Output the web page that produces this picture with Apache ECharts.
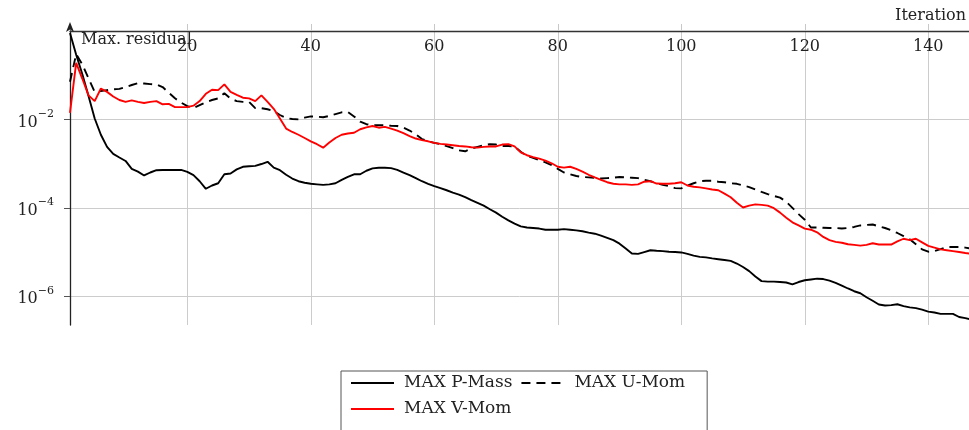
<!DOCTYPE html>
<html><head><meta charset="utf-8">
<script src="https://cdn.jsdelivr.net/npm/echarts@6/dist/echarts.min.js"></script>
<style>html,body{margin:0;padding:0;background:#fff}#c{width:969px;height:430px}</style>
</head><body><div id="c"></div>
<script>
const iterations = [1,2,3,4,5,6,7,8,9,10,11,12,13,14,15,16,17,18,19,20,
21,22,23,24,25,26,27,28,29,30,31,32,33,34,35,36,37,38,39,40,
41,42,43,44,45,46,47,48,49,50,51,52,53,54,55,56,57,58,59,60,
61,62,63,64,65,66,67,68,69,70,71,72,73,74,75,76,77,78,79,80,
81,82,83,84,85,86,87,88,89,90,91,92,93,94,95,96,97,98,99,100,
101,102,103,104,105,106,107,108,109,110,111,112,113,114,115,116,117,118,119,120,
121,122,123,124,125,126,127,128,129,130,131,132,133,134,135,136,137,138,139,140,
141,142,143,144,145,146,147];

const pMass = [0.9,0.29,0.105,3.4e-2,1.05e-2,4.5e-3,2.4e-3,1.66e-3,1.38e-3,1.15e-3,
7.6e-4,6.6e-4,5.4e-4,6.3e-4,7.1e-4,7.2e-4,7.2e-4,7.2e-4,7.2e-4,6.5e-4,
5.5e-4,4.0e-4,2.7e-4,3.2e-4,3.6e-4,5.75e-4,6.0e-4,7.4e-4,8.5e-4,8.7e-4,
8.9e-4,9.8e-4,1.1e-3,8.1e-4,7.1e-4,5.6e-4,4.6e-4,4.0e-4,3.7e-4,3.5e-4,
3.4e-4,3.3e-4,3.4e-4,3.6e-4,4.3e-4,5.0e-4,5.75e-4,5.75e-4,6.9e-4,7.8e-4,
8.1e-4,8.1e-4,7.9e-4,7.2e-4,6.3e-4,5.5e-4,4.7e-4,4.0e-4,3.5e-4,3.1e-4,
2.8e-4,2.5e-4,2.2e-4,2.0e-4,1.74e-4,1.5e-4,1.3e-4,1.12e-4,9.3e-5,7.8e-5,
6.3e-5,5.2e-5,4.4e-5,3.8e-5,3.6e-5,3.5e-5,3.4e-5,3.2e-5,3.2e-5,3.2e-5,
3.3e-5,3.2e-5,3.1e-5,2.95e-5,2.75e-5,2.6e-5,2.35e-5,2.1e-5,1.86e-5,1.55e-5,
1.2e-5,9.3e-6,9.1e-6,1.0e-5,1.1e-5,1.07e-5,1.05e-5,1.02e-5,1.0e-5,9.8e-6,
9.1e-6,8.3e-6,7.8e-6,7.6e-6,7.2e-6,6.9e-6,6.6e-6,6.3e-6,5.5e-6,4.6e-6,
3.7e-6,2.8e-6,2.2e-6,2.15e-6,2.15e-6,2.1e-6,2.05e-6,1.86e-6,2.1e-6,2.3e-6,
2.4e-6,2.5e-6,2.45e-6,2.25e-6,2.0e-6,1.74e-6,1.5e-6,1.3e-6,1.17e-6,9.5e-7,
7.9e-7,6.5e-7,6.2e-7,6.3e-7,6.6e-7,6.0e-7,5.6e-7,5.4e-7,5.0e-7,4.5e-7,
4.3e-7,4.0e-7,4.0e-7,4.0e-7,3.4e-7,3.2e-7,2.95e-7];

const uMom = [7.1e-2,0.30,0.174,8.5e-2,4.2e-2,4.4e-2,4.6e-2,4.8e-2,4.9e-2,5.4e-2,
6.0e-2,6.6e-2,6.5e-2,6.3e-2,6.2e-2,5.4e-2,4.0e-2,3.0e-2,2.4e-2,2.0e-2,
1.8e-2,2.1e-2,2.45e-2,2.75e-2,3.0e-2,3.9e-2,2.95e-2,2.6e-2,2.5e-2,2.5e-2,
1.8e-2,1.8e-2,1.7e-2,1.55e-2,1.26e-2,1.07e-2,1.02e-2,1.0e-2,1.1e-2,1.17e-2,
1.15e-2,1.12e-2,1.2e-2,1.32e-2,1.45e-2,1.48e-2,1.17e-2,8.9e-3,7.8e-3,7.4e-3,
7.4e-3,7.4e-3,7.2e-3,7.1e-3,6.5e-3,5.6e-3,4.6e-3,3.6e-3,3.2e-3,2.95e-3,
2.75e-3,2.5e-3,2.25e-3,2.0e-3,1.9e-3,2.2e-3,2.4e-3,2.6e-3,2.75e-3,2.7e-3,
2.5e-3,2.5e-3,2.45e-3,1.86e-3,1.5e-3,1.35e-3,1.2e-3,1.07e-3,9.3e-4,7.6e-4,
6.3e-4,5.75e-4,5.25e-4,5.0e-4,4.9e-4,4.8e-4,4.6e-4,4.7e-4,4.8e-4,5.0e-4,
4.9e-4,4.8e-4,4.7e-4,4.3e-4,4.0e-4,3.6e-4,3.3e-4,3.1e-4,2.8e-4,2.75e-4,
3.2e-4,3.6e-4,4.0e-4,4.1e-4,4.1e-4,3.9e-4,3.8e-4,3.6e-4,3.5e-4,3.2e-4,
2.95e-4,2.6e-4,2.3e-4,2.05e-4,1.86e-4,1.7e-4,1.38e-4,1.0e-4,7.2e-5,5.4e-5,
3.6e-5,3.6e-5,3.55e-5,3.5e-5,3.5e-5,3.4e-5,3.5e-5,3.7e-5,4.0e-5,4.1e-5,
4.2e-5,3.8e-5,3.5e-5,3.1e-5,2.7e-5,2.3e-5,1.95e-5,1.5e-5,1.15e-5,1.02e-5,
1.05e-5,1.17e-5,1.3e-5,1.3e-5,1.3e-5,1.26e-5,1.2e-5];

const vMom = [1.4e-2,0.19,8.3e-2,3.5e-2,2.6e-2,5.0e-2,4.2e-2,3.3e-2,2.75e-2,2.5e-2,
2.7e-2,2.5e-2,2.35e-2,2.5e-2,2.6e-2,2.2e-2,2.25e-2,1.9e-2,1.9e-2,1.9e-2,
2.05e-2,2.6e-2,3.8e-2,4.7e-2,4.6e-2,6.2e-2,4.2e-2,3.6e-2,3.1e-2,3.0e-2,
2.6e-2,3.5e-2,2.5e-2,1.74e-2,1.05e-2,6.2e-3,5.2e-3,4.5e-3,3.8e-3,3.2e-3,
2.75e-3,2.3e-3,3.0e-3,3.8e-3,4.5e-3,4.8e-3,5.0e-3,6.0e-3,6.6e-3,7.1e-3,
6.5e-3,6.8e-3,6.2e-3,5.6e-3,4.9e-3,4.2e-3,3.7e-3,3.4e-3,3.2e-3,2.95e-3,
2.8e-3,2.7e-3,2.6e-3,2.5e-3,2.45e-3,2.35e-3,2.3e-3,2.4e-3,2.45e-3,2.45e-3,
2.7e-3,2.75e-3,2.45e-3,1.8e-3,1.55e-3,1.4e-3,1.3e-3,1.17e-3,1.02e-3,8.5e-4,
8.1e-4,8.5e-4,7.6e-4,6.6e-4,5.6e-4,4.9e-4,4.3e-4,3.8e-4,3.5e-4,3.4e-4,
3.4e-4,3.3e-4,3.4e-4,3.9e-4,4.0e-4,3.55e-4,3.5e-4,3.5e-4,3.6e-4,3.8e-4,
3.2e-4,3.0e-4,2.9e-4,2.75e-4,2.6e-4,2.5e-4,2.1e-4,1.74e-4,1.3e-4,1.02e-4,
1.12e-4,1.2e-4,1.17e-4,1.12e-4,9.8e-5,7.8e-5,6.0e-5,4.7e-5,4.0e-5,3.4e-5,
3.2e-5,2.8e-5,2.2e-5,1.86e-5,1.7e-5,1.62e-5,1.5e-5,1.45e-5,1.4e-5,1.45e-5,
1.58e-5,1.48e-5,1.48e-5,1.48e-5,1.74e-5,2.0e-5,1.86e-5,2.0e-5,1.66e-5,1.38e-5,
1.26e-5,1.15e-5,1.1e-5,1.05e-5,1.0e-5,9.5e-6,9.1e-6];

const seriesNames = ['MAX P-Mass', 'MAX U-Mom', 'MAX V-Mom'];
const xName = 'Iteration';
const yName = 'Max. residual';

const FONT = 'DejaVu Serif';
function pairs(vals) { return iterations.map((it, i) => [it, vals[i]]); }

const chart = echarts.init(document.getElementById('c'), null, {renderer: 'canvas'});
chart.setOption({
  animation: false,
  backgroundColor: '#ffffff',
  grid: {left: 70, right: 0, top: 31, bottom: 105, containLabel: false},
  xAxis: {
    type: 'value', position: 'top', min: 1, max: 146.6, splitNumber: 7,
    name: xName, nameLocation: 'end', nameGap: 0, nameMoveOverlap: false,
    nameTextStyle: {fontFamily: FONT, fontSize: 16, color: '#222', align: 'right', verticalAlign: 'bottom', padding: [0, 3, 7, 0]},
    axisLine: {show: true, onZero: false, lineStyle: {color: '#333', width: 1.3}},
    axisTick: {show: true, inside: false, length: 7, lineStyle: {color: '#c8c8c8'}},
    axisLabel: {inside: true, margin: 8, showMinLabel: false, showMaxLabel: false, fontFamily: FONT, fontSize: 16, color: '#222'},
    splitLine: {show: true, showMinLine: false, showMaxLine: false, lineStyle: {color: '#cccccc', width: 1}}
  },
  yAxis: {
    type: 'log', logBase: 100, min: 2.24e-7, max: 1,
    name: yName, nameLocation: 'end', nameGap: -17, nameMoveOverlap: false,
    nameTextStyle: {fontFamily: FONT, fontSize: 16, color: '#222', align: 'left', verticalAlign: 'bottom', padding: [0, 0, 0, 11]},
    axisLine: {show: true, onZero: false, symbol: ['none', 'arrow'], symbolSize: [6, 10], symbolOffset: [0, 9], lineStyle: {color: '#222', width: 1.3}},
    axisTick: {show: true, length: 6, lineStyle: {color: '#555'}},
    axisLabel: {
      margin: 16, showMinLabel: false, showMaxLabel: false,
      formatter: function (v) {
        const e = Math.round(Math.log10(v));
        return '{b|10}{s|' + (e < 0 ? '\u2212' : '') + Math.abs(e) + '}';
      },
      rich: {
        b: {fontFamily: FONT, fontSize: 16, color: '#222', lineHeight: 22, verticalAlign: 'bottom'},
        s: {fontFamily: FONT, fontSize: 11, color: '#222', lineHeight: 22, verticalAlign: 'top'}
      }
    },
    splitLine: {show: true, showMinLine: false, showMaxLine: false, lineStyle: {color: '#cccccc', width: 1}}
  },
  legend: {
    left: 341, top: 371, width: 400, orient: 'horizontal',
    padding: [3, 22, 30, 9],
    itemWidth: 43, itemHeight: 2, itemGap: 8,
    borderColor: '#555', borderWidth: 1, backgroundColor: '#fff',
    textStyle: {fontFamily: FONT, fontSize: 17, color: '#222', padding: [0, 0, 0, 5], lineHeight: 18},
    data: seriesNames
  },
  series: [
    {name: seriesNames[0], type: 'line', data: pairs(pMass), symbol: 'none', showSymbol: false,
     lineStyle: {color: '#000', width: 1.9}, itemStyle: {color: '#000'}},
    {name: seriesNames[1], type: 'line', data: pairs(uMom), symbol: 'none', showSymbol: false,
     lineStyle: {color: '#000', width: 1.9, type: [9, 6]}, itemStyle: {color: '#000'}},
    {name: seriesNames[2], type: 'line', data: pairs(vMom), symbol: 'none', showSymbol: false,
     lineStyle: {color: '#ff0000', width: 1.9}, itemStyle: {color: '#ff0000'}}
  ]
});
</script></body></html>
